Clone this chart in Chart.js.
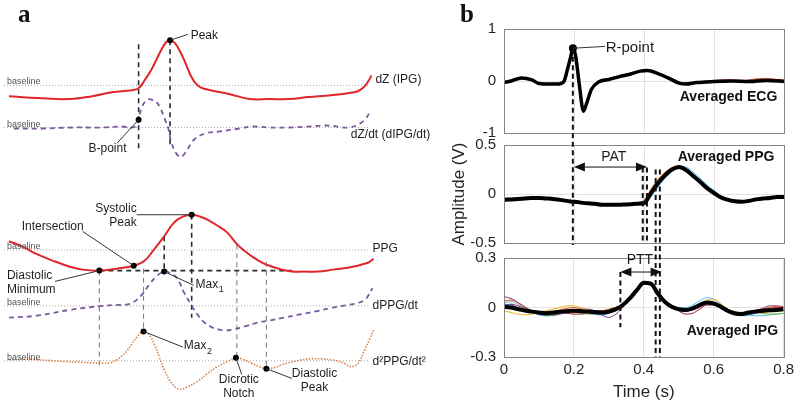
<!DOCTYPE html>
<html>
<head>
<meta charset="utf-8">
<title>IPG / PPG timing</title>
<script src="https://cdn.jsdelivr.net/npm/chart.js@4.4.1/dist/chart.umd.min.js"></script>
<style>
  body { margin: 0; background: #fff; width: 798px; height: 404px; overflow: hidden; position: relative; }
  canvas { position: absolute; top: 0; }
  #panelA { left: 0; }
  .pb { left: 420px; }
</style>
</head>
<body>
<canvas id="panelA" width="460" height="404"></canvas>
<canvas id="ecgCanvas" class="pb" width="378" height="404"></canvas>
<canvas id="ppgCanvas" class="pb" width="378" height="404"></canvas>
<canvas id="ipgCanvas" class="pb" width="378" height="404"></canvas>
<script>
const FONT = "'Liberation Sans', Arial, Helvetica, sans-serif";

// ---------- panel a: schematic waveforms (x in samples, y in a.u. above each baseline)
const dzX = [5, 35, 67, 90, 110, 130, 137, 143, 150, 156, 160, 165, 169, 174, 180, 185, 190, 195, 200, 210, 230, 250, 270, 290, 310, 333, 350, 360, 366, 370, 374];
const dzY = [-11, -13, -14, -11, -7, -5, -3, 5, 16, 28, 36, 44, 46, 43, 33, 22, 10, 2, -2, -5, -9, -14, -14, -14, -12, -10, -8, -6, -2, 3, 10];

const dzdtX = [10, 40, 70, 100, 120, 130, 135, 137, 140, 144, 147, 151, 155, 159, 162, 165, 167, 170, 175, 180, 185, 190, 195, 205, 220, 240, 253, 270, 290, 310, 330, 350, 362, 368, 373];
const dzdtY = [-1, -1, 0, 0, 1, 0, 2, 8, 20, 27, 29, 28, 26, 20, 13, 5, 0, -14, -26, -30, -25, -17, -11, -6, -4, -1, 1, 0, 0, 1, 2, 0, 4, 9, 17];

const ppgX = [5, 20, 33, 50, 67, 80, 97, 115, 132, 143, 153, 163, 173, 182, 191, 200, 207, 217, 227, 237, 245, 253, 263, 273, 283, 293, 305, 320, 335, 350, 360, 367, 372, 376];
const ppgY = [9, 3, -4, -11, -17, -20, -21, -19, -16, -11, 1, 14, 28, 34, 36, 34, 31, 25, 18, 6, -1, -7, -13, -17, -20, -22, -22, -22, -20, -18, -16, -14, -12, -9];

const dppgX = [5, 33, 67, 100, 115, 123, 132, 140, 148, 155, 163, 170, 177, 183, 190, 197, 203, 210, 218, 225, 233, 245, 258, 270, 285, 300, 320, 333, 350, 360, 368, 375];
const dppgY = [-12, -10, -4, 0, 1, 1, 4, 11, 22, 30, 35, 33, 27, 14, 2, -9, -16, -21, -24, -25, -24, -21, -17, -15, -12, -9, -5, -2, 1, 3, 7, 18];

const d2X = [5, 27, 50, 77, 100, 108, 115, 120, 125, 130, 136, 142, 148, 153, 158, 163, 170, 178, 186, 197, 207, 217, 227, 236, 244, 253, 260, 267, 275, 283, 298, 313, 333, 345, 353, 360, 367, 372, 376];
const d2Y = [1, 1.5, 0, -1.5, -2.5, -2, 1, 5, 10, 17, 25, 30, 26, 17, 4, -9, -22, -29, -27, -21, -13, -6, -1, 3, 1, -3, -6, -8, -7, -4, 0, 2, 1, -2, -6, -3, 11, 22, 31];

// fiducial points
const dzMarkX = [169], dzMarkY = [46];
const dzdtMarkX = [137], dzdtMarkY = [8];
const ppgMarkX = [97, 132, 191], ppgMarkY = [-21, -16, 36];
const dppgMarkX = [163], dppgMarkY = [35];
const d2MarkX = [142, 236, 267], d2MarkY = [30, 3, -8];

// ---------- panel b: averaged signals (time in s, amplitude in V)
const tGrid = [0, 0.02, 0.04, 0.06, 0.08, 0.10, 0.12, 0.14, 0.16, 0.18, 0.20, 0.22, 0.24, 0.26, 0.28, 0.30, 0.32, 0.34, 0.36, 0.38, 0.40,
               0.42, 0.44, 0.46, 0.48, 0.50, 0.52, 0.54, 0.56, 0.58, 0.60, 0.62, 0.64, 0.66, 0.68, 0.70, 0.72, 0.74, 0.76, 0.78, 0.80];

const ecgTime = [0, 0.02, 0.05, 0.08, 0.1, 0.13, 0.15, 0.165, 0.172, 0.18, 0.19, 0.197, 0.205, 0.215, 0.227, 0.237, 0.25, 0.27, 0.3, 0.33, 0.36, 0.39, 0.41, 0.44, 0.47, 0.5, 0.52, 0.55, 0.6, 0.65, 0.7, 0.75, 0.8];
const ecgAvg = [-0.03, 0.0, 0.06, 0.02, -0.05, -0.06, -0.06, -0.04, 0.0, 0.19, 0.45, 0.63, 0.47, -0.06, -0.58, -0.41, -0.16, -0.02, 0.03, 0.085, 0.13, 0.19, 0.2, 0.14, 0.055, -0.04, -0.06, -0.03, -0.01, 0.0, -0.01, 0.01, -0.01];
const ecgTraceTime = [0.28, 0.30, 0.32, 0.34, 0.36, 0.38, 0.40, 0.42, 0.44, 0.46, 0.48, 0.50, 0.52, 0.54, 0.56, 0.58, 0.60, 0.62, 0.64, 0.66, 0.68, 0.70, 0.72, 0.74, 0.76, 0.78, 0.80];
const ecgRed = [0.03, 0.05, 0.09, 0.12, 0.15, 0.19, 0.215, 0.21, 0.16, 0.1, 0.05, -0.02, -0.04, -0.03, -0.01, 0.0, 0.01, 0.02, 0.02, 0.015, 0.01, 0.01, 0.02, 0.03, 0.035, 0.025, 0.01];
const ecgOrange = [0.0, 0.04, 0.08, 0.11, 0.14, 0.18, 0.2, 0.2, 0.15, 0.09, 0.04, -0.03, -0.05, -0.035, -0.02, -0.01, 0.0, 0.01, 0.01, 0.005, 0.0, 0.02, 0.04, 0.05, 0.045, 0.03, 0.02];
const rPointT = [0.197], rPointV = [0.63];

const ppgAvg = [-0.06, -0.055, -0.05, -0.045, -0.04, -0.04, -0.045, -0.05, -0.06, -0.07, -0.08, -0.088, -0.095, -0.1, -0.11, -0.11, -0.11, -0.108, -0.105, -0.1, -0.095,
                0.01, 0.11, 0.19, 0.25, 0.275, 0.245, 0.185, 0.125, 0.06, 0.01, -0.035, -0.06, -0.075, -0.08, -0.07, -0.055, -0.045, -0.04, -0.03, -0.03];
const ppgCyan = [-0.04, -0.045, -0.05, -0.05, -0.045, -0.04, -0.04, -0.05, -0.065, -0.08, -0.09, -0.1, -0.105, -0.11, -0.11, -0.105, -0.1, -0.1, -0.1, -0.1, -0.095,
                 -0.03, 0.07, 0.16, 0.23, 0.28, 0.275, 0.225, 0.16, 0.095, 0.035, -0.015, -0.05, -0.07, -0.075, -0.07, -0.055, -0.04, -0.035, -0.025, -0.03];
const ppgOrange = [-0.07, -0.065, -0.06, -0.05, -0.04, -0.035, -0.035, -0.045, -0.06, -0.07, -0.075, -0.085, -0.095, -0.105, -0.11, -0.115, -0.115, -0.11, -0.1, -0.09, -0.06,
                   0.05, 0.15, 0.22, 0.27, 0.28, 0.24, 0.175, 0.11, 0.05, 0.0, -0.04, -0.065, -0.08, -0.085, -0.075, -0.06, -0.05, -0.04, -0.035, -0.03];
const ppgYellow = [-0.065, -0.07, -0.065, -0.055, -0.045, -0.04, -0.04, -0.05, -0.06, -0.075, -0.085, -0.09, -0.1, -0.11, -0.115, -0.12, -0.115, -0.11, -0.105, -0.095, -0.075,
                   0.03, 0.14, 0.215, 0.265, 0.285, 0.255, 0.19, 0.13, 0.065, 0.015, -0.03, -0.06, -0.075, -0.08, -0.075, -0.06, -0.05, -0.045, -0.04, -0.035];
const ppgRed = [-0.05, -0.05, -0.045, -0.04, -0.035, -0.035, -0.04, -0.05, -0.06, -0.07, -0.08, -0.09, -0.095, -0.1, -0.105, -0.105, -0.105, -0.105, -0.1, -0.095, -0.09,
                0.0, 0.1, 0.175, 0.235, 0.26, 0.235, 0.175, 0.115, 0.055, 0.005, -0.04, -0.065, -0.08, -0.085, -0.08, -0.065, -0.05, -0.04, -0.035, -0.03];
const ppgBlue = [-0.055, -0.06, -0.055, -0.05, -0.045, -0.045, -0.05, -0.055, -0.065, -0.075, -0.085, -0.09, -0.1, -0.105, -0.11, -0.11, -0.11, -0.11, -0.108, -0.1, -0.09,
                 -0.01, 0.09, 0.175, 0.24, 0.275, 0.26, 0.205, 0.145, 0.08, 0.025, -0.025, -0.055, -0.07, -0.075, -0.07, -0.06, -0.045, -0.035, -0.025, -0.025];

const ipgAvg = [0.005, 0, -0.01, -0.018, -0.025, -0.03, -0.035, -0.03, -0.025, -0.022, -0.02, -0.022, -0.025, -0.028, -0.03, -0.025, -0.01, 0.015, 0.055, 0.105, 0.15,
                0.145, 0.085, 0.035, 0.005, -0.01, -0.015, -0.005, 0.015, 0.03, 0.025, 0.005, -0.02, -0.035, -0.04, -0.03, -0.025, -0.02, -0.017, -0.015, -0.01];
const ipgBlue = [0.02, 0.015, 0.0, -0.015, -0.03, -0.04, -0.045, -0.04, -0.03, -0.02, -0.015, -0.02, -0.03, -0.04, -0.045, -0.035, -0.015, 0.01, 0.05, 0.1, 0.14,
                 0.135, 0.08, 0.03, 0.0, -0.02, -0.025, -0.01, 0.01, 0.025, 0.02, 0.0, -0.025, -0.04, -0.05, -0.045, -0.035, -0.025, -0.02, -0.02, -0.015];
const ipgOrange = [0.04, 0.045, 0.03, 0.005, -0.02, -0.035, -0.04, -0.03, -0.015, -0.005, 0.0, -0.01, -0.02, -0.025, -0.02, -0.01, 0.0, 0.02, 0.06, 0.11, 0.15,
                   0.145, 0.09, 0.04, 0.01, -0.005, -0.01, 0.0, 0.02, 0.035, 0.03, 0.01, -0.015, -0.03, -0.035, -0.025, -0.015, -0.01, 0.0, 0.005, 0.0];
const ipgYellow = [-0.02, -0.03, -0.04, -0.045, -0.04, -0.03, -0.02, -0.01, 0.0, 0.01, 0.01, 0.0, -0.015, -0.03, -0.04, -0.035, -0.02, 0.005, 0.045, 0.095, 0.14,
                   0.14, 0.09, 0.045, 0.015, -0.005, -0.02, -0.01, 0.02, 0.045, 0.05, 0.025, -0.01, -0.03, -0.04, -0.035, -0.03, -0.03, -0.025, -0.02, -0.02];
const ipgPurple = [0.065, 0.055, 0.03, 0.0, -0.02, -0.03, -0.04, -0.045, -0.04, -0.03, -0.02, -0.01, -0.01, -0.02, -0.045, -0.06, -0.04, 0.0, 0.05, 0.1, 0.14,
                   0.14, 0.09, 0.04, 0.005, -0.015, -0.02, -0.015, 0.0, 0.02, 0.015, -0.005, -0.03, -0.045, -0.045, -0.035, -0.02, -0.005, 0.01, 0.01, 0.005];
const ipgGreen = [0.0, -0.01, -0.02, -0.025, -0.03, -0.04, -0.05, -0.05, -0.04, -0.03, -0.03, -0.035, -0.04, -0.04, -0.035, -0.03, -0.015, 0.01, 0.05, 0.1, 0.14,
                  0.135, 0.085, 0.035, 0.0, -0.015, -0.02, -0.01, 0.01, 0.02, 0.015, 0.0, -0.02, -0.03, -0.035, -0.03, -0.03, -0.035, -0.04, -0.04, -0.035];
const ipgCyan = [0.03, 0.035, 0.02, -0.005, -0.025, -0.045, -0.05, -0.045, -0.035, -0.03, -0.025, -0.02, -0.025, -0.03, -0.035, -0.03, -0.015, 0.015, 0.055, 0.1, 0.145,
                 0.14, 0.085, 0.035, 0.01, 0.0, 0.0, 0.015, 0.04, 0.06, 0.05, 0.02, -0.01, -0.03, -0.04, -0.045, -0.05, -0.05, -0.045, -0.04, -0.035];
const ipgRed = [0.01, 0.02, 0.01, -0.005, -0.02, -0.025, -0.03, -0.035, -0.03, -0.035, -0.04, -0.04, -0.03, -0.02, -0.02, -0.025, -0.02, 0.005, 0.045, 0.095, 0.14,
                0.14, 0.095, 0.045, 0.01, -0.02, -0.04, -0.035, -0.01, 0.015, 0.015, 0.0, -0.025, -0.04, -0.045, -0.035, -0.02, -0.01, -0.005, 0.0, 0.0];

const xy = (xs, ys) => xs.map((x, i) => ({ x: x, y: ys[i] }));

// ================= panel a =================
const RED = '#e0262b', PURPLE = '#7a5a9e', ORANGE = '#d9854f';
// pixel row of each baseline (1 a.u. = 1 px)
const aBase = { yZ: 83, yZd: 126, yP: 251, yPd: 308, yP2: 364 };
const aScales = { x: { type: 'linear', display: false, min: 0, max: 460 } };
Object.keys(aBase).forEach(k => {
    aScales[k] = { type: 'linear', display: false, min: aBase[k] - 404, max: aBase[k] };
});

function curve(xs, ys, axis, color, width, dash) {
    return { data: xy(xs, ys), yAxisID: axis, borderColor: color, borderWidth: width,
             borderDash: dash || [], pointRadius: 0, tension: 0.4, order: 1 };
}
function baseline(axis) {
    return { data: xy([0, 372], [0, 0]), yAxisID: axis, borderColor: '#a9a9a9', borderWidth: 1,
             borderDash: [1, 2], pointRadius: 0, order: 2 };
}
function marks(xs, ys, axis) {
    return { data: xy(xs, ys), yAxisID: axis, showLine: false, pointRadius: 3,
             pointBackgroundColor: '#000', pointBorderColor: '#000', pointBorderWidth: 0, order: 0 };
}

function text(ctx, str, x, y, align, font, color) {
    ctx.font = font;
    ctx.fillStyle = color || '#1e1e1e';
    ctx.textAlign = align || 'left';
    ctx.textBaseline = 'middle';
    ctx.fillText(str, x, y);
}

const panelAOverlay = {
    id: 'panelAOverlay',
    beforeDatasetsDraw(chart) {
        const ctx = chart.ctx, s = chart.scales;
        const px = x => s.x.getPixelForValue(x);
        const py = (ax, v) => s[ax].getPixelForValue(v);
        // guide lines: x, from axis/value, to axis/value, dark?
        const guides = [
            [137, 'yZ', 42, 'yZd', -24, true],
            [169, 'yZ', 46, 'yZd', -21, true],
            [97, 'yP', -21, 'yP2', -9, false],
            [142, 'yP', -19, 'yP2', 30, false],
            [163, 'yP', 14, 'yPd', 35, true],
            [191, 'yP', 36, 'yPd', -12, true],
            [237, 'yP', 6, 'yP2', 3, false],
            [267, 'yP', -12, 'yP2', -8, false]
        ];
        ctx.save();
        ctx.setLineDash([5, 4]);
        guides.forEach(g => {
            ctx.strokeStyle = g[5] ? '#2a2a2a' : '#808080';
            ctx.lineWidth = g[5] ? 1.6 : 1.1;
            ctx.beginPath();
            ctx.moveTo(px(g[0]), py(g[1], g[2]));
            ctx.lineTo(px(g[0]), py(g[3], g[4]));
            ctx.stroke();
        });
        ctx.strokeStyle = '#2a2a2a';
        ctx.lineWidth = 1.6;
        ctx.beginPath();
        ctx.moveTo(px(97), py('yP', -21));
        ctx.lineTo(px(293), py('yP', -21));
        ctx.stroke();
        ctx.restore();
    },
    afterDatasetsDraw(chart) {
        const ctx = chart.ctx, s = chart.scales;
        const px = x => s.x.getPixelForValue(x);
        const py = (ax, v) => s[ax].getPixelForValue(v);
        ctx.save();
        // leader lines
        const leaders = [
            [169, 'yZ', 46, 187, 'yZ', 52],
            [137, 'yZd', 8, 115, 'yZd', -16],
            [135, 'yP', 36, 191, 'yP', 36],
            [80, 'yP', 19, 132, 'yP', -16],
            [52, 'yP', -32, 97, 'yP', -21],
            [163, 'yPd', 35, 193, 'yPd', 21],
            [142, 'yP2', 30, 182, 'yP2', 14],
            [236, 'yP2', 3, 242, 'yP2', -14],
            [267, 'yP2', -8, 293, 'yP2', -18]
        ];
        ctx.strokeStyle = '#333';
        ctx.lineWidth = 1;
        leaders.forEach(l => {
            ctx.beginPath();
            ctx.moveTo(px(l[0]), py(l[1], l[2]));
            ctx.lineTo(px(l[3]), py(l[4], l[5]));
            ctx.stroke();
        });

        const f12 = '12px ' + FONT;
        const labels = [
            ['Peak', 190, 'yZ', 51, 'left'],
            ['B-point', 86, 'yZd', -22, 'left'],
            ['dZ (IPG)', 378, 'yZ', 6, 'left'],
            ['dZ/dt (dIPG/dt)', 353, 'yZd', -7, 'left'],
            ['Systolic', 135, 'yP', 42, 'right'],
            ['Peak', 135, 'yP', 28, 'right'],
            ['Intersection', 18, 'yP', 24, 'left'],
            ['Diastolic', 3, 'yP', -26, 'left'],
            ['Minimum', 3, 'yP', -40, 'left'],
            ['PPG', 375, 'yP', 1, 'left'],
            ['dPPG/dt', 375, 'yPd', 0, 'left'],
            ['d\u00B2PPG/dt\u00B2', 375, 'yP2', -1, 'left'],
            ['Dicrotic', 239, 'yP2', -19, 'center'],
            ['Notch', 239, 'yP2', -34, 'center'],
            ['Diastolic', 316, 'yP2', -13, 'center'],
            ['Peak', 316, 'yP2', -27, 'center']
        ];
        labels.forEach(l => text(ctx, l[0], px(l[1]), py(l[2], l[3]), l[4], f12));

        // Max with subscripts
        [['1', 195, 'yPd', 22], ['2', 183, 'yP2', 15]].forEach(m => {
            const x0 = px(m[1]), y0 = py(m[2], m[3]);
            text(ctx, 'Max', x0, y0, 'left', f12);
            const w = ctx.measureText('Max').width;
            text(ctx, m[0], x0 + w + 0.5, y0 + 5, 'left', '9px ' + FONT);
        });

        // baseline tags
        Object.keys(aBase).forEach(k => text(ctx, 'baseline', px(3), py(k, 3.5), 'left', '9px ' + FONT, '#555'));

        // panel letter
        ctx.font = 'bold 25px "Liberation Serif", "Times New Roman", serif';
        ctx.fillStyle = '#111';
        ctx.textAlign = 'left';
        ctx.textBaseline = 'alphabetic';
        ctx.fillText('a', 18, 22);
        ctx.restore();
    }
};

new Chart(document.getElementById('panelA'), {
    type: 'line',
    data: {
        datasets: [
            baseline('yZ'), baseline('yZd'), baseline('yP'), baseline('yPd'), baseline('yP2'),
            curve(dzX, dzY, 'yZ', RED, 2),
            curve(dzdtX, dzdtY, 'yZd', PURPLE, 1.8, [5, 4]),
            curve(ppgX, ppgY, 'yP', RED, 2),
            curve(dppgX, dppgY, 'yPd', PURPLE, 1.8, [5, 4]),
            curve(d2X, d2Y, 'yP2', ORANGE, 1.6, [1.5, 1.5]),
            marks(dzMarkX, dzMarkY, 'yZ'), marks(dzdtMarkX, dzdtMarkY, 'yZd'),
            marks(ppgMarkX, ppgMarkY, 'yP'), marks(dppgMarkX, dppgMarkY, 'yPd'),
            marks(d2MarkX, d2MarkY, 'yP2')
        ]
    },
    options: {
        responsive: false,
        animation: false,
        events: [],
        layout: { padding: 0 },
        plugins: { legend: { display: false }, tooltip: { enabled: false } },
        scales: aScales
    },
    plugins: [panelAOverlay]
});

// ================= panel b =================
const MAT = { blue: '#0072BD', orange: '#D95319', yellow: '#EDB120', purple: '#7E2F8E',
              green: '#77AC30', cyan: '#4DBEEE', red: '#A2142F' };
const charts = {};

function trace(xs, ys, color) {
    return { data: xy(xs, ys), borderColor: color, borderWidth: 1, pointRadius: 0, order: 1 };
}
function avg(xs, ys, width) {
    return { data: xy(xs, ys), borderColor: '#000', borderWidth: width, pointRadius: 0, order: 0 };
}

const boxPlugin = {
    id: 'box',
    afterDatasetsDraw(chart) {
        const a = chart.chartArea, ctx = chart.ctx;
        ctx.save();
        ctx.strokeStyle = '#858585';
        ctx.lineWidth = 1;
        ctx.strokeRect(Math.round(a.left) + 0.5, Math.round(a.top) + 0.5,
                       Math.round(a.right - a.left), Math.round(a.bottom - a.top));
        ctx.restore();
    }
};

function makePanel(id, cfg) {
    const tickFont = { family: FONT, size: 15 };
    return new Chart(document.getElementById(id), {
        type: 'line',
        data: { datasets: cfg.datasets },
        options: {
            responsive: false,
            animation: false,
            events: [],
            layout: { padding: { top: cfg.top, bottom: cfg.bottom, left: 0, right: 14 } },
            elements: { line: { cubicInterpolationMode: 'monotone' } },
            plugins: { legend: { display: false }, tooltip: { enabled: false } },
            scales: {
                x: {
                    type: 'linear', min: 0, max: 0.8,
                    ticks: { display: cfg.showX, stepSize: 0.2, font: tickFont, color: '#262626', padding: 4, maxRotation: 0 },
                    grid: { color: '#e2e2e2', drawTicks: false },
                    border: { display: false },
                    title: { display: cfg.showX, text: 'Time (s)', color: '#262626',
                             font: { family: FONT, size: 17 }, padding: { top: 0, bottom: 1 } },
                    afterFit: s => { s.height = cfg.xHeight; }
                },
                y: {
                    min: cfg.min, max: cfg.max,
                    ticks: { stepSize: cfg.step, font: tickFont, color: '#262626', padding: 8 },
                    grid: { color: '#e2e2e2', drawTicks: false },
                    border: { display: false },
                    title: { display: !!cfg.yTitle, text: cfg.yTitle || '', color: '#262626',
                             font: { family: FONT, size: 17 }, padding: { top: 29, bottom: 0 } },
                    afterFit: s => { s.width = 84; }
                }
            }
        },
        plugins: [boxPlugin].concat(cfg.plugins || [])
    });
}

const panelBOverlay = {
    id: 'panelBOverlay',
    afterDatasetsDraw(chart) {
        const ctx = chart.ctx, xs = chart.scales.x;
        const yE = charts.ecg.scales.y, yP = charts.ppg.scales.y, yI = chart.scales.y;
        const X = t => xs.getPixelForValue(t);
        ctx.save();

        // dashed timing markers
        ctx.strokeStyle = '#111';
        ctx.lineWidth = 2;
        ctx.setLineDash([5, 3.5]);
        const vline = (t, y1, y2) => {
            ctx.beginPath(); ctx.moveTo(X(t), y1); ctx.lineTo(X(t), y2); ctx.stroke();
        };
        vline(0.197, yE.getPixelForValue(0.63), yP.getPixelForValue(-0.52));
        vline(0.397, yP.getPixelForValue(0.27), yP.getPixelForValue(-0.5));
        vline(0.409, yP.getPixelForValue(0.27), yP.getPixelForValue(-0.5));
        vline(0.434, yP.getPixelForValue(0.25), yI.getPixelForValue(-0.3));
        vline(0.446, yP.getPixelForValue(0.25), yI.getPixelForValue(-0.3));
        vline(0.333, yI.getPixelForValue(0.215), yI.getPixelForValue(-0.12));
        ctx.setLineDash([]);

        // double arrows
        ctx.fillStyle = '#111';
        ctx.lineWidth = 1;
        const head = (x, y, dir) => {
            ctx.beginPath(); ctx.moveTo(x, y);
            ctx.lineTo(x + dir * 11, y - 4.5); ctx.lineTo(x + dir * 11, y + 4.5);
            ctx.closePath(); ctx.fill();
        };
        const arrow = (t1, t2, y) => {
            const x1 = X(t1), x2 = X(t2);
            ctx.beginPath(); ctx.moveTo(x1 + 8, y); ctx.lineTo(x2 - 8, y); ctx.stroke();
            head(x1, y, 1); head(x2, y, -1);
        };
        arrow(0.2, 0.409, yP.getPixelForValue(0.275));
        arrow(0.333, 0.451, yI.getPixelForValue(0.215));

        // R-point leader
        ctx.strokeStyle = '#333';
        ctx.beginPath();
        ctx.moveTo(X(0.197), yE.getPixelForValue(0.63));
        ctx.lineTo(X(0.289), yE.getPixelForValue(0.665));
        ctx.stroke();

        const f14 = '14px ' + FONT, b14 = 'bold 14px ' + FONT;
        text(ctx, 'R-point', X(0.291), yE.getPixelForValue(0.63), 'left', '15px ' + FONT, '#1a1a1a');
        text(ctx, 'Averaged ECG', X(0.503), yE.getPixelForValue(-0.31), 'left', b14, '#111');
        text(ctx, 'PAT', X(0.314), yP.getPixelForValue(0.38), 'center', f14, '#1a1a1a');
        text(ctx, 'Averaged PPG', X(0.497), yP.getPixelForValue(0.38), 'left', b14, '#111');
        text(ctx, 'PTT', X(0.389), yI.getPixelForValue(0.29), 'center', f14, '#1a1a1a');
        text(ctx, 'Averaged IPG', X(0.523), yI.getPixelForValue(-0.142), 'left', b14, '#111');

        // panel letter
        ctx.font = 'bold 25px "Liberation Serif", "Times New Roman", serif';
        ctx.fillStyle = '#111';
        ctx.textAlign = 'left';
        ctx.textBaseline = 'alphabetic';
        ctx.fillText('b', 40, 22);
        ctx.restore();
    }
};

charts.ecg = makePanel('ecgCanvas', {
    top: 29, bottom: 271, xHeight: 0, showX: false, min: -1, max: 1, step: 1,
    datasets: [
        trace(ecgTraceTime, ecgRed, MAT.red),
        trace(ecgTraceTime, ecgOrange, MAT.orange),
        avg(ecgTime, ecgAvg, 3.5),
        { data: xy(rPointT, rPointV), showLine: false, pointRadius: 4, pointBackgroundColor: '#000',
          pointBorderWidth: 0, order: -1 }
    ]
});

charts.ppg = makePanel('ppgCanvas', {
    top: 145, bottom: 161, xHeight: 0, showX: false, min: -0.5, max: 0.5, step: 0.5,
    yTitle: 'Amplitude (V)',
    datasets: [
        trace(tGrid, ppgCyan, MAT.cyan),
        trace(tGrid, ppgOrange, MAT.orange),
        trace(tGrid, ppgYellow, MAT.yellow),
        trace(tGrid, ppgRed, MAT.red),
        trace(tGrid, ppgBlue, MAT.blue),
        avg(tGrid, ppgAvg, 4)
    ]
});

charts.ipg = makePanel('ipgCanvas', {
    top: 258, bottom: 0, xHeight: 47, showX: true, min: -0.3, max: 0.3, step: 0.3,
    datasets: [
        trace(tGrid, ipgBlue, MAT.blue),
        trace(tGrid, ipgOrange, MAT.orange),
        trace(tGrid, ipgYellow, MAT.yellow),
        trace(tGrid, ipgPurple, MAT.purple),
        trace(tGrid, ipgGreen, MAT.green),
        trace(tGrid, ipgCyan, MAT.cyan),
        trace(tGrid, ipgRed, MAT.red),
        avg(tGrid, ipgAvg, 4)
    ],
    plugins: [panelBOverlay]
});
</script>
</body>
</html>
